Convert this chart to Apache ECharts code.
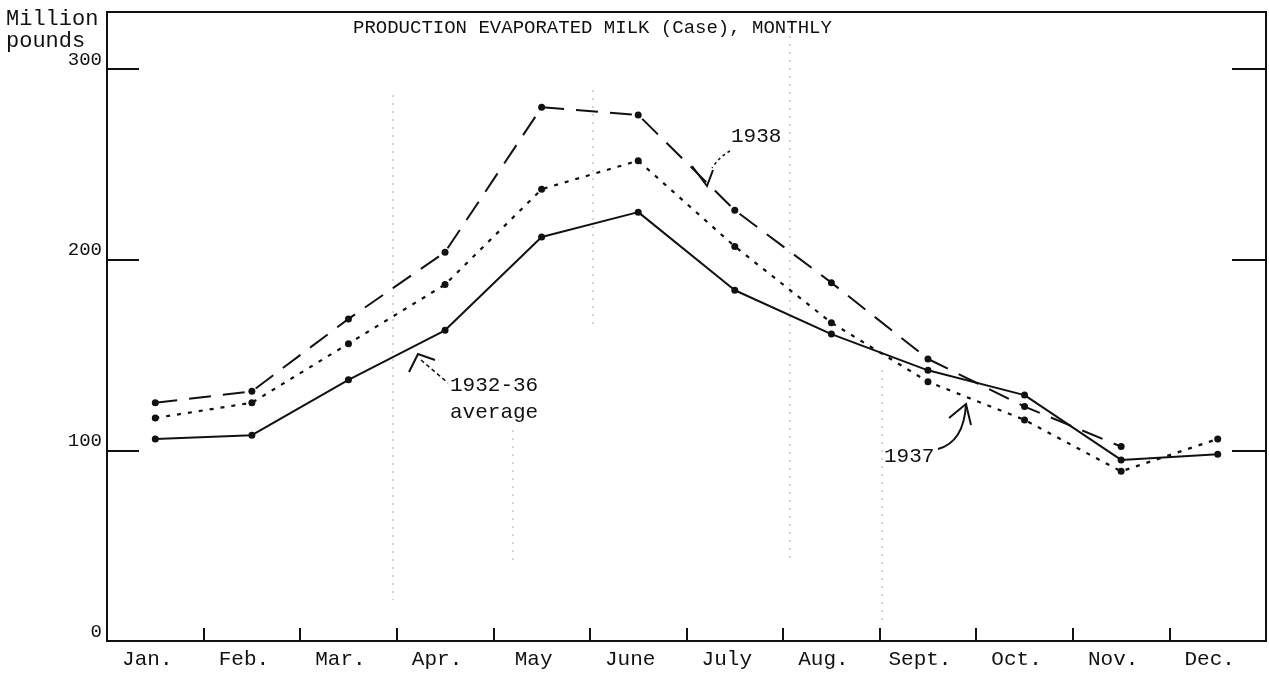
<!DOCTYPE html>
<html>
<head>
<meta charset="utf-8">
<script src="https://cdn.jsdelivr.net/npm/echarts@6/dist/echarts.min.js"></script>
<style>
  html, body { margin: 0; padding: 0; background: #fff; }
  #chartMilk { width: 1269px; height: 692px; }
</style>
</head>
<body>
<div id="chartMilk"></div>
<script>
// data, million pounds
var months = ['Jan.', 'Feb.', 'Mar.', 'Apr.', 'May', 'June', 'July', 'Aug.', 'Sept.', 'Oct.', 'Nov.', 'Dec.'];
var prod1938 = [125, 131, 169, 204, 280, 276, 226, 188, 148, 123, 102, null];
var prod1937 = [117, 125, 156, 187, 237, 252, 207, 167, 136, 116, 89, 106];
var avg3236 = [106, 108, 137, 163, 212, 225, 184, 161, 142, 129, 95, 98];
var yTicks = [0, 100, 200, 300];

var ink = '#111';
var font = 'Liberation Mono';

var chartMilk = echarts.init(document.getElementById('chartMilk'));

chartMilk.setOption({
    animation: false,
    backgroundColor: '#fff',
    title: {
        text: 'PRODUCTION EVAPORATED MILK (Case), MONTHLY',
        left: 348,
        top: 13,
        textStyle: { fontFamily: font, fontSize: 19, fontWeight: 'normal', color: ink }
    },
    grid: {
        left: 107,
        right: 3,
        top: 12,
        bottom: 51,
        show: true,
        borderColor: ink,
        borderWidth: 2
    },
    xAxis: {
        type: 'category',
        data: months,
        boundaryGap: true,
        axisLine: { lineStyle: { color: ink, width: 2 } },
        axisTick: { show: true, inside: true, length: 13, lineStyle: { color: ink, width: 2 } },
        axisLabel: { fontFamily: font, fontSize: 21, color: ink, margin: 8, padding: [0, 16, 0, 0] },
        splitLine: { show: false }
    },
    yAxis: [
        {
            type: 'value',
            min: 0,
            max: 330,
            interval: 100,
            axisLine: { show: true, lineStyle: { color: ink, width: 2 } },
            axisTick: { show: true, inside: true, length: 32, lineStyle: { color: ink, width: 2 } },
            axisLabel: {
                fontFamily: font, fontSize: 19, color: ink, margin: 5,
                verticalAlign: 'bottom', showMaxLabel: false,
                formatter: function (v) { return yTicks.indexOf(v) >= 0 ? String(v) : ''; }
            },
            splitLine: { show: false }
        },
        {
            type: 'value',
            position: 'right',
            min: 0,
            max: 330,
            interval: 100,
            axisLine: { show: true, lineStyle: { color: ink, width: 1.5 } },
            axisTick: { show: true, inside: true, length: 34, lineStyle: { color: ink, width: 2 } },
            axisLabel: { show: false },
            splitLine: { show: false }
        }
    ],
    graphic: [
        // axis unit
        { type: 'text', left: 6, top: 8, style: { text: 'Million\npounds', font: '22px "Liberation Mono"', lineHeight: 22, fill: ink } },
        // faint guide lines
        { type: 'line', shape: { x1: 393, y1: 95, x2: 393, y2: 600 }, style: { stroke: '#aaa', lineWidth: 1, lineDash: [2, 6] } },
        { type: 'line', shape: { x1: 513, y1: 430, x2: 513, y2: 560 }, style: { stroke: '#aaa', lineWidth: 1, lineDash: [2, 6] } },
        { type: 'line', shape: { x1: 593, y1: 90, x2: 593, y2: 330 }, style: { stroke: '#aaa', lineWidth: 1, lineDash: [2, 6] } },
        { type: 'line', shape: { x1: 790, y1: 20, x2: 790, y2: 560 }, style: { stroke: '#aaa', lineWidth: 1, lineDash: [2, 6] } },
        { type: 'line', shape: { x1: 882, y1: 370, x2: 882, y2: 620 }, style: { stroke: '#aaa', lineWidth: 1, lineDash: [2, 6] } },
        // 1938 note
        { type: 'text', left: 731, top: 126, style: { text: '1938', font: '21px "Liberation Mono"', fill: ink } },
        { type: 'bezierCurve', shape: { x1: 730, y1: 151, x2: 712, y2: 168, cpx1: 720, cpy1: 156 }, style: { stroke: ink, lineWidth: 1.5, lineDash: [3, 3], fill: null } },
        { type: 'polyline', shape: { points: [[692, 166], [707, 186], [713, 170]] }, style: { stroke: ink, lineWidth: 2, fill: null } },
        // 1932-36 average note
        { type: 'text', left: 450, top: 372, style: { text: '1932-36\naverage', font: '21px "Liberation Mono"', lineHeight: 27, fill: ink } },
        { type: 'polyline', shape: { points: [[409, 372], [418, 354], [435, 360]] }, style: { stroke: ink, lineWidth: 2, fill: null } },
        { type: 'line', shape: { x1: 421, y1: 360, x2: 448, y2: 383 }, style: { stroke: ink, lineWidth: 1.5, lineDash: [4, 3] } },
        // 1937 note
        { type: 'text', left: 884, top: 446, style: { text: '1937', font: '21px "Liberation Mono"', fill: ink } },
        { type: 'bezierCurve', shape: { x1: 938, y1: 449, x2: 966, y2: 404, cpx1: 964, cpy1: 442 }, style: { stroke: ink, lineWidth: 2, fill: null } },
        { type: 'polyline', shape: { points: [[949, 418], [966, 404], [971, 425]] }, style: { stroke: ink, lineWidth: 2, fill: null } }
    ],
    series: [
        {
            name: '1938',
            type: 'line',
            data: prod1938,
            symbol: 'circle',
            symbolSize: 7,
            itemStyle: { color: ink },
            lineStyle: { color: ink, width: 2, type: [22, 12] }
        },
        {
            name: '1937',
            type: 'line',
            data: prod1937,
            symbol: 'circle',
            symbolSize: 7,
            itemStyle: { color: ink },
            lineStyle: { color: ink, width: 2.2, type: [4, 7] }
        },
        {
            name: '1932-36 average',
            type: 'line',
            data: avg3236,
            symbol: 'circle',
            symbolSize: 7,
            itemStyle: { color: ink },
            lineStyle: { color: ink, width: 2 }
        }
    ]
});
</script>
</body>
</html>
